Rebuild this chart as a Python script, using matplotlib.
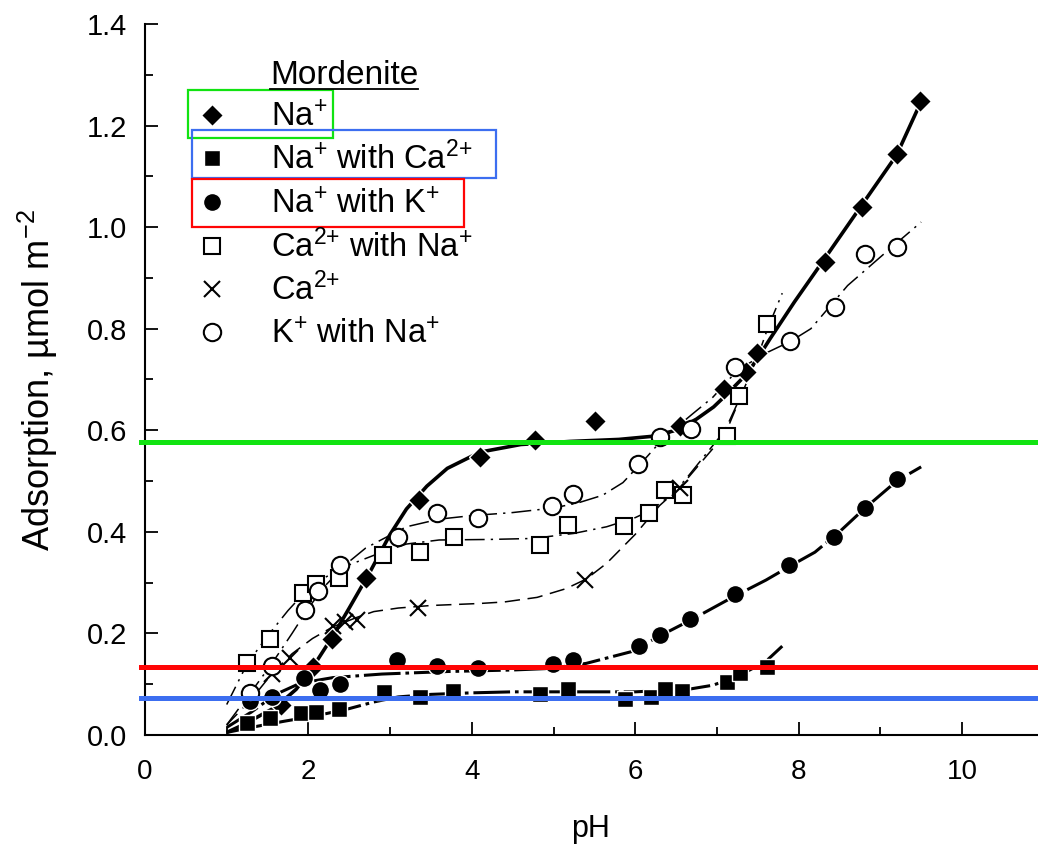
import matplotlib
matplotlib.use("Agg")
import matplotlib.pyplot as plt
from matplotlib.lines import Line2D
from matplotlib.patches import Rectangle
from matplotlib.ticker import MultipleLocator, FormatStrFormatter

plt.rcParams["font.family"] = ["Liberation Sans", "DejaVu Sans"]
plt.rcParams["mathtext.fontset"] = "custom"
plt.rcParams["mathtext.rm"] = "Liberation Sans"
plt.rcParams["mathtext.it"] = "Liberation Sans:italic"
plt.rcParams["mathtext.default"] = "regular"

# --- measured points -------------------------------------------------------
na_x = [1.67, 2.06, 2.29, 2.71, 3.35, 4.10, 4.77, 5.51, 6.55, 7.09, 7.36, 7.49, 8.32, 8.77, 9.21, 9.48]
na_y = [0.06, 0.134, 0.190, 0.309, 0.463, 0.548, 0.581, 0.619, 0.608, 0.681, 0.715, 0.753, 0.932, 1.039, 1.144, 1.249]

naca_x = [1.25, 1.53, 1.91, 2.09, 2.37, 2.93, 3.37, 3.77, 4.83, 5.18, 5.87, 6.19, 6.36, 6.57, 7.12, 7.28, 7.61]
naca_y = [0.023, 0.033, 0.043, 0.046, 0.051, 0.085, 0.075, 0.087, 0.080, 0.091, 0.071, 0.075, 0.091, 0.087, 0.105, 0.123, 0.134]

nak_x = [1.29, 1.56, 1.95, 2.14, 2.39, 3.08, 3.58, 4.08, 4.99, 5.24, 6.05, 6.30, 6.67, 7.22, 7.88, 8.43, 8.81, 9.20]
nak_y = [0.066, 0.075, 0.112, 0.089, 0.100, 0.148, 0.136, 0.131, 0.139, 0.148, 0.175, 0.197, 0.228, 0.277, 0.335, 0.390, 0.447, 0.504]

cana_x = [1.25, 1.53, 1.93, 2.09, 2.37, 2.91, 3.37, 3.78, 4.83, 5.18, 5.86, 6.17, 6.36, 6.58, 7.12, 7.27, 7.61]
cana_y = [0.141, 0.190, 0.279, 0.298, 0.309, 0.354, 0.361, 0.389, 0.374, 0.414, 0.412, 0.438, 0.483, 0.473, 0.589, 0.667, 0.809]

ca_x = [1.55, 1.77, 2.30, 2.45, 2.60, 3.34, 5.39, 6.55]
ca_y = [0.120, 0.152, 0.215, 0.222, 0.226, 0.251, 0.305, 0.487]

kna_x = [1.29, 1.55, 1.96, 2.12, 2.39, 3.10, 3.57, 4.08, 4.98, 5.24, 6.04, 6.30, 6.68, 7.22, 7.89, 8.45, 8.81, 9.20]
kna_y = [0.082, 0.136, 0.246, 0.283, 0.335, 0.390, 0.438, 0.427, 0.451, 0.474, 0.534, 0.586, 0.602, 0.725, 0.775, 0.843, 0.948, 0.961]

# --- fitted curves ---------------------------------------------------------
na_fit_x = [1.0, 1.2, 1.6, 1.85, 2.06, 2.3, 2.5, 2.75, 3.0, 3.2, 3.45, 3.7, 4.1, 4.6, 5.2, 5.8, 6.2,
            6.5, 6.75, 6.96, 7.09, 7.36, 7.5, 7.65, 7.95, 8.25, 8.75, 9.2, 9.47]
na_fit_y = [0.005, 0.02, 0.055, 0.09, 0.135, 0.195, 0.25, 0.32, 0.395, 0.445, 0.49, 0.525, 0.557, 0.572,
            0.578, 0.582, 0.588, 0.6, 0.622, 0.646, 0.666, 0.71, 0.742, 0.78, 0.853, 0.922, 1.038, 1.142, 1.237]

naca_fit_x = [1.0, 1.3, 1.7, 2.1, 2.5, 2.8, 3.1, 3.5, 4.0, 4.5, 5.5, 6.0, 6.65, 6.95, 7.25, 7.6, 7.8]
naca_fit_y = [0.005, 0.015, 0.027, 0.038, 0.052, 0.065, 0.075, 0.080, 0.083, 0.085, 0.085, 0.085, 0.090,
              0.098, 0.115, 0.145, 0.175]

nak_fit_x = [1.0, 1.3, 1.6, 1.9, 2.3, 2.9, 3.7, 4.5, 4.95, 5.4, 5.95, 6.3, 6.7, 7.2, 7.6, 7.9, 8.2, 8.5,
             8.8, 9.2, 9.5]
nak_fit_y = [0.015, 0.045, 0.08, 0.102, 0.113, 0.12, 0.125, 0.128, 0.131, 0.141, 0.164, 0.195, 0.228,
             0.272, 0.305, 0.333, 0.36, 0.4, 0.445, 0.5, 0.528]

cana_fit_x = [1.0, 1.25, 1.5, 1.75, 1.95, 2.2, 2.5, 2.9, 3.2, 3.6, 4.2, 4.75, 5.25, 5.65, 6.0, 6.2, 6.4,
              6.6, 6.85, 7.1, 7.3, 7.5, 7.62, 7.8]
cana_fit_y = [0.06, 0.14, 0.195, 0.245, 0.28, 0.31, 0.335, 0.36, 0.376, 0.384, 0.385, 0.387, 0.397, 0.41,
              0.428, 0.443, 0.468, 0.5, 0.55, 0.6, 0.67, 0.745, 0.8, 0.87]

ca_fit_x = [1.0, 1.3, 1.55, 1.8, 2.05, 2.3, 2.6, 2.8, 3.1, 3.5, 4.1, 4.4, 4.8, 5.15, 5.4, 5.65, 6.0, 6.3,
            6.55, 6.85, 7.1, 7.25]
ca_fit_y = [0.02, 0.07, 0.12, 0.16, 0.19, 0.213, 0.232, 0.243, 0.25, 0.255, 0.259, 0.262, 0.271, 0.288,
            0.307, 0.338, 0.395, 0.452, 0.488, 0.545, 0.592, 0.65]

kna_fit_x = [1.0, 1.3, 1.55, 1.8, 2.0, 2.2, 2.45, 2.7, 2.9, 3.2, 3.6, 4.0, 4.5, 5.0, 5.3, 5.6, 5.85, 6.1,
             6.35, 6.7, 6.95, 7.25, 7.6, 7.9, 8.15, 8.6, 9.05, 9.5]
kna_fit_y = [0.02, 0.085, 0.14, 0.2, 0.25, 0.293, 0.335, 0.368, 0.385, 0.41, 0.425, 0.432, 0.438, 0.447,
             0.457, 0.472, 0.497, 0.54, 0.585, 0.632, 0.665, 0.718, 0.752, 0.775, 0.8, 0.885, 0.948, 1.01]

# reference levels
na_level, nak_level, naca_level = 0.577, 0.134, 0.073

labels = [r"Na$^{\text{+}}$", r"Na$^{\text{+}}$ with Ca$^{\text{2+}}$", r"Na$^{\text{+}}$ with K$^{\text{+}}$",
          r"Ca$^{\text{2+}}$ with Na$^{\text{+}}$", r"Ca$^{\text{2+}}$", r"K$^{\text{+}}$ with Na$^{\text{+}}$"]

W, H = 1038, 848
fig = plt.figure(figsize=(W / 100, H / 100), dpi=100)
L, R, B, T = 145, 1038, 735, 24
ax = fig.add_axes([L / W, (H - B) / H, (R - L) / W, (B - T) / H])

thick_dd = (0, (12, 1.6, 1.2, 1.6))
thin_dd = (0, (13, 4, 1.5, 4))
ax.plot(na_fit_x, na_fit_y, color="black", lw=2.6, zorder=2, solid_capstyle="butt")
ax.plot(naca_fit_x, naca_fit_y, color="black", lw=2.2, ls=thick_dd, zorder=2)
ax.plot(nak_fit_x, nak_fit_y, color="black", lw=2.2, ls=thick_dd, zorder=2)
ax.plot(cana_fit_x, cana_fit_y, color="black", lw=1.1, ls=thin_dd, zorder=2)
ax.plot(ca_fit_x, ca_fit_y, color="black", lw=1.1, ls=(0, (10, 5)), zorder=2)
ax.plot(kna_fit_x, kna_fit_y, color="black", lw=1.1, ls=thin_dd, zorder=2)

styles = [
    dict(marker="D", ms=11, mfc="black", mec="white", mew=1.0),
    dict(marker="s", ms=11, mfc="black", mec="white", mew=1.0),
    dict(marker="o", ms=13, mfc="black", mec="white", mew=1.0),
    dict(marker="s", ms=11.5, mfc="white", mec="black", mew=1.5),
    dict(marker="x", ms=11, mfc="none", mec="black", mew=1.5),
    dict(marker="o", ms=12.5, mfc="white", mec="black", mew=1.5),
]
series = [(na_x, na_y), (naca_x, naca_y), (nak_x, nak_y), (cana_x, cana_y), (ca_x, ca_y), (kna_x, kna_y)]
for (xs, ys), st in zip(series, styles):
    ax.plot(xs, ys, ls="none", zorder=3, **st)

# highlighted reference levels (drawn over the data)
for lev, col in [(na_level, "#11e311"), (nak_level, "#ff0505"), (naca_level, "#3c6ef0")]:
    ax.axhline(lev, xmin=-0.004, xmax=1, color=col, lw=3.6, zorder=5, clip_on=False)

ax.set_xlim(0, (R - L) / 81.7)
ax.set_ylim(0, 1.4)
ax.xaxis.set_major_locator(MultipleLocator(2))
ax.xaxis.set_minor_locator(MultipleLocator(1))
ax.yaxis.set_major_locator(MultipleLocator(0.2))
ax.yaxis.set_minor_locator(MultipleLocator(0.1))
ax.yaxis.set_major_formatter(FormatStrFormatter("%.1f"))
ax.tick_params(which="both", direction="in", width=1.3, colors="black")
ax.tick_params(which="major", length=9.5)
ax.tick_params(which="minor", length=6)
ax.tick_params(axis="x", labelsize=20, pad=17)
ax.tick_params(axis="y", labelsize=21, pad=13)
for s in ["top", "right"]:
    ax.spines[s].set_visible(False)
for s in ["left", "bottom"]:
    ax.spines[s].set_linewidth(1.5)

fig.text(591 / W, 1 - 829 / H, "pH", fontsize=22, ha="center", va="center")
fig.text(38 / W, 1 - 380 / H, "Adsorption, µmol m$^{-2}$", fontsize=26, rotation=90,
         ha="center", va="center")


# legend, laid out by hand in pixel positions
def fx(px):
    return px / W


def fy(py):
    return 1 - py / H


title = fig.text(fx(270), fy(84), "Mordenite", fontsize=24, ha="left", va="baseline")
bb = title.get_window_extent(renderer=fig.canvas.get_renderer())
fig.add_artist(Line2D([bb.x0 / W, bb.x1 / W], [fy(89), fy(89)], color="black", lw=1.3))
rows = [115, 158, 202, 246, 289, 332]
for py, st, lab in zip(rows, styles, labels):
    fig.add_artist(Line2D([fx(212)], [fy(py)], ls="none", **st))
    fig.text(fx(271), fy(py + 11.5), lab, fontsize=23.5, ha="left", va="baseline")

for (x0, y0, x1, y1), col in [((188, 90, 333, 138), "#11e311"),
                              ((192, 130, 496, 178), "#3c6ef0"),
                              ((192, 179, 464, 227), "#ff0505")]:
    fig.add_artist(Rectangle((fx(x0), fy(y1)), fx(x1) - fx(x0), fy(y0) - fy(y1),
                             fill=False, ec=col, lw=1.6))

fig.savefig("out.png", dpi=100)
